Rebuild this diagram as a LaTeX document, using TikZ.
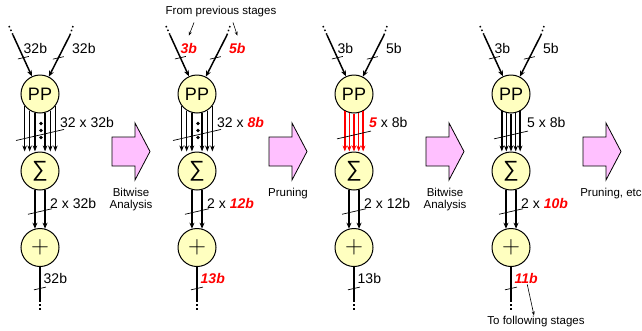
\documentclass[tikz,border=0pt]{standalone}
\usepackage[no-math]{fontspec}
\setmainfont{Liberation Sans}
\usetikzlibrary{arrows.meta,calc}
\definecolor{opyellow}{HTML}{FFFFC0}
\definecolor{flowpink}{HTML}{FFC0FF}
\definecolor{hotred}{HTML}{FF0000}
\newcommand{\hl}[1]{\textcolor{hotred}{\bfseries\itshape #1}}
\tikzset{
  >={Stealth[length=6pt,width=5pt]},
  % operatorer
  op/.style={circle,draw=black,fill=opyellow,line width=1pt,inner sep=0pt,
             minimum size=38pt},
  opfont/.style={font=\fontsize{18}{20}\selectfont},
  lbl/.style={font=\fontsize{14}{16}\selectfont,inner sep=1pt},
  capt/.style={font=\fontsize{11.5}{12}\selectfont,inner sep=1pt,align=center},
  % ledningar
  inp/.style={->,line width=1.5pt},
  dotlead/.style={line width=1.5pt,dash pattern=on 1.5pt off 2.5pt},
  bus/.style={->,line width=1.4pt,>={Stealth[length=6pt,width=4.5pt]}},
  redbus/.style={bus,draw=hotred,>={Stealth[length=6pt,width=4.5pt,color=hotred]}},
  pointer/.style={->,line width=0.6pt,>={Stealth[length=4pt,width=3pt]}},
  slash/.pic={\draw[-,line width=0.7pt,draw=black] (-#1,0.23*#1) -- (#1,-0.23*#1);},
  fatarrow/.pic={\draw[line width=0.8pt,fill=flowpink] (0,-14.5) -- (23,-14.5)
    -- (23,-28.5) -- (38,0) -- (23,28.5) -- (23,14.5) -- (0,14.5) -- cycle;},
}
\begin{document}
\begin{tikzpicture}[x=1pt,y=-1pt]
\useasboundingbox (0,0) rectangle (642,330);
\foreach \n/\cx/\bx/\la/\lb/\lc/\ld/\le in {1/40/19/32b/32b/{32 x 32b}/{2 x 32b}/32b,
    2/197/19/{\hl{3b}}/{\hl{5b}}/{32 x \hl{8b}}/{2 x \hl{12b}}/{\hl{13b}},
    3/354/14/3b/5b/{\hl{5} x 8b}/{2 x 12b}/13b,
    4/511/15/3b/5b/{5 x 8b}/{2 x \hl{10b}}/{\hl{11b}}} {
  \node[op,opfont] (pp\n) at (\cx,94) {PP};
  \node[op] (sum\n) at (\cx,171) {\fontsize{22}{22}\selectfont ∑};
  \node[op] (add\n) at (\cx,247.5) {\fontsize{26}{26}\selectfont$+$};
  \coordinate (ia\n) at (\cx-31,26);
  \coordinate (ib\n) at (\cx-27,35);
  \coordinate (ic\n) at (\cx+33,26);
  \coordinate (id\n) at (\cx+30,35);
  \coordinate (o\n) at (\cx,300);
  \coordinate (oe\n) at (\cx,311);
  \draw[dotlead] (ia\n) -- (ib\n);
  \draw[dotlead] (ic\n) -- (id\n);
  \draw[inp] (ib\n) -- pic[pos=.55]{slash=5.5} (pp\n);
  \draw[inp] (id\n) -- pic[pos=.55]{slash=5.5} (pp\n);
  \draw[inp] (sum\n.-105) -- (add\n.105);
  \draw[inp] (sum\n.-75) -- (add\n.75);
  \path (sum\n) -- pic[pos=.56]{slash=12} (add\n);
  \draw[line width=1.6pt] (add\n) -- pic[pos=.65]{slash=6} (o\n);
  \draw[dotlead] (o\n) -- (oe\n);
  \node[lbl,anchor=west] (la\n) at (\cx-17.5,48) {\la};
  \node[lbl,anchor=west] (lb\n) at (\cx+31,48) {\lb};
  \node[lbl,anchor=west] (lc\n) at (\cx+\bx,122) {\lc};
  \node[lbl,anchor=west] (ld\n) at (\cx+9,203) {\ld};
  \node[lbl,anchor=west] (le\n) at (\cx+2.5,278) {\le};
}
\foreach \n in {1,2} {
  \foreach \a in {142,122,105,75,58,38}
    \draw[bus] (pp\n.-\a) -- (pp\n.-\a |- sum\n.north);
  \foreach \d in {10,17,24}
    \fill ([xshift=1pt,yshift=-\d pt]pp\n.south) circle (1.9);
  \path (pp\n) -- pic[pos=.565]{slash=24} (sum\n);
}
\foreach \a in {118,104,90,76,62}
  \draw[redbus] (pp3.-\a) -- (pp3.-\a |- sum3.north);
\foreach \a in {118,104,90,76,62}
  \draw[bus] (pp4.-\a) -- (pp4.-\a |- sum4.north);
\path (pp3) -- pic[pos=.565]{slash=17} (sum3);
\path (pp4) -- pic[pos=.565]{slash=17} (sum4);
\foreach \n/\cx/\dx/\txt in {1/40/0/{Bitwise\\Analysis},2/197/0/Pruning,
    3/354/0/{Bitwise\\Analysis},4/511/9/{Pruning, etc}} {
  \pic at (\cx+72,151.5) {fatarrow};
  \node[capt,anchor=north] (st\n) at (\cx+91+\dx,186.5) {\txt};
}
\node[capt] (prev) at (221,12) {From previous stages};
\draw[pointer] ([xshift=-27pt,yshift=-4pt]prev.south) -- ([yshift=6pt]la2.north);
\draw[pointer] ([xshift=12pt,yshift=-4pt]prev.south) -- ([yshift=6pt]lb2.north);
\node[capt] (next) at (536,322) {To following stages};
\draw[pointer] ([xshift=1pt]le4.south) -- ([xshift=-2pt]next.north);
\end{tikzpicture}
\end{document}
